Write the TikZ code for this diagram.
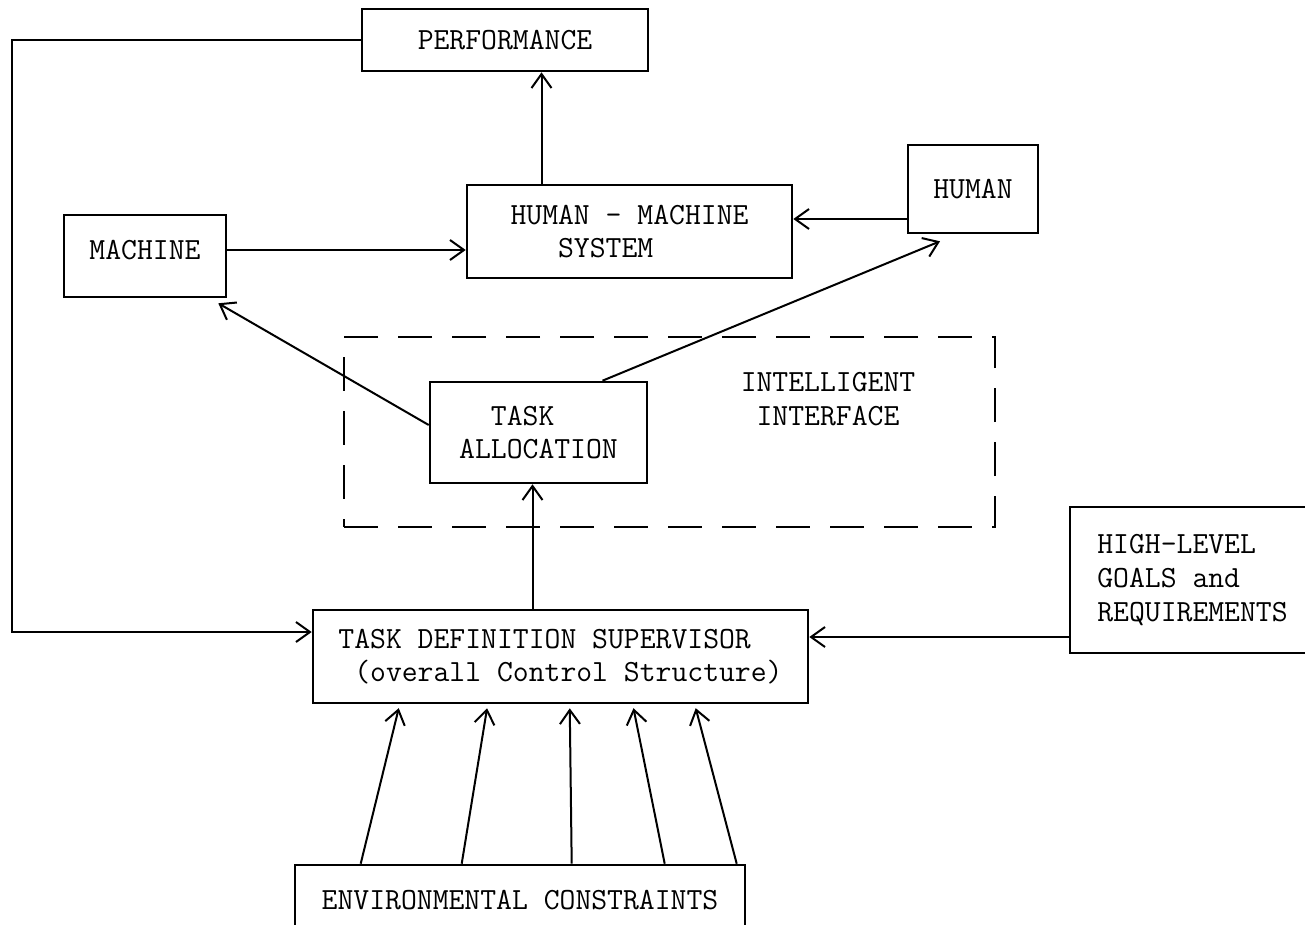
\documentclass[tikz,border=0pt]{standalone}
\usepackage{fontspec}
\usepackage{tikz}
\usetikzlibrary{arrows,arrows.meta,positioning,calc}

\begin{document}
\begin{tikzpicture}[->,>={Straight Barb[length=7pt,width=10pt]},x=0.5pt,y=-0.5pt,
                    line width=1pt,font=\ttfamily\fontsize{15.4}{16.8}\selectfont]
  \tikzstyle{block}=[draw,rectangle,line width=1.3pt,inner sep=0pt,align=center]
  \tikzstyle{dashblock}=[draw,rectangle,line width=1.3pt,dash pattern=on 17pt off 10pt]

  \useasboundingbox (0,0) rectangle (1305,925);

  \node[block,minimum width=143pt,minimum height=31pt]		(perf)    at (505,40)      {PERFORMANCE};
  \node[block,minimum width=162.5pt,minimum height=46.5pt,align=left]	(hms)  at (629.5,231.5) {HUMAN - MACHINE\\\phantom{HUM}SYSTEM};
  \node[block,minimum width=81pt,minimum height=41pt,text depth=6pt]	(machine) at (145,256) {MACHINE};
  \node[block,minimum width=65pt,minimum height=44pt]		(human)   at (973,189)     {HUMAN};
  \node[dashblock,minimum width=325.5pt,minimum height=95pt]	(iface)   at (669.5,432)   {};
  \node[align=center]						(ifacelabel) at (828,399)  {INTELLIGENT\\INTERFACE};
  \node[block,minimum width=108.5pt,minimum height=50.5pt,align=left]	(ta)   at (538.5,432.5) {\phantom{AA}TASK\\ALLOCATION};
  \node[block,minimum width=247.5pt,minimum height=46.5pt,align=left]	(tds)  at (560.5,656.5) {TASK DEFINITION SUPERVISOR\\\phantom{X}(overall Control Structure)};
  \node[block,minimum width=122.5pt,minimum height=73pt,align=left]	(goals) at (1192.5,580) {HIGH-LEVEL\\GOALS and\\REQUIREMENTS};
  \node[block,minimum width=225pt,minimum height=35pt]		(env)     at (520,900)     {ENVIRONMENTAL CONSTRAINTS};

  \coordinate (fbcorner) at (12,632);

  % feedback from performance
  \draw (perf.west) -| (fbcorner) -- (fbcorner -| tds.west);

  \path ([xshift=-44pt]hms.north) 		edge 	([xshift=-44pt]hms.north |- perf.south);
  \path ([yshift=3pt]machine.east) 		edge 	([yshift=3pt]machine.east -| hms.west);
  \path ([yshift=-15pt]human.west) 		edge 	([yshift=-15pt]human.west -| hms.east);
  \path ([yshift=3.75pt]ta.west) 		edge 	([xshift=-4.5pt,yshift=-2.5pt]machine.south east);
  \path ([xshift=32pt]ta.north) 		edge 	([xshift=-16.5pt,yshift=-3.5pt]human.south);
  \path ([xshift=-14pt]tds.north) 		edge 	([xshift=-14pt]tds.north |- ta.south);
  \path ([yshift=-28.5pt]goals.west) 		edge 	([yshift=-28.5pt]goals.west -| tds.east);

  % environmental constraints
  \foreach \a/\b in {33.5/44, 84/88, 139/129, 185.5/160.5, 221.5/191.5}
    \path ([xshift=\a pt]env.north west) edge [shorten >=2pt] ([xshift=\b pt]tds.south west);

\end{tikzpicture}
\end{document}
